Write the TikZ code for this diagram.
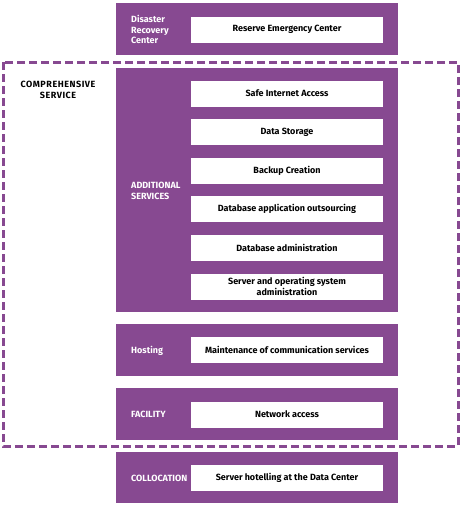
\documentclass[tikz,border=0pt]{standalone}
\usepackage{fontspec}
\setmainfont{Fira Sans}
\usetikzlibrary{positioning}
\definecolor{dcpurple}{RGB}{135,73,145}
\tikzset{
  layer/.style={fill=dcpurple, minimum width=282pt, inner sep=0pt},
  svc/.style={fill=white, minimum width=192pt, minimum height=26pt, inner sep=1pt, align=center, font=\fontsize{9}{10.5}\selectfont\bfseries},
  tag/.style={text=white, anchor=west, inner sep=0pt, align=left, font=\fontsize{9}{10.5}\selectfont\bfseries},
}

\begin{document}
\begin{tikzpicture}[x=1pt,y=-1pt]
  \useasboundingbox (0,0) rectangle (460,506);
  \def\Lx{256.5} % centre of the purple layers
  \def\Sx{287}   % centre of the white service boxes
  \def\Tx{131}   % left edge of the layer names
  % disaster recovery
  \node[layer, minimum height=52pt] (drc) at (\Lx,29) {};
  \node[svc] (reserve) at (\Sx,29.5) {Reserve Emergency Center};
  \node[tag] (drcname) at (\Tx,29.5) {Disaster\\Recovery\\Center};
  % comprehensive service frame
  \draw[dcpurple, line width=3pt, dash pattern=on 8pt off 4pt] (3,62) rectangle (458,446);
  \node[align=center, inner sep=0pt, font=\fontsize{9}{11}\selectfont\bfseries\addfontfeatures{LetterSpace=6}] (compname) at (58,90) {COMPREHENSIVE\\SERVICE};
  % additional services
  \node[layer, minimum height=244pt] (addl) at (\Lx,190) {};
  \node[tag] (addlname) at (\Tx,191) {ADDITIONAL\\SERVICES};
  \foreach \name/\txt [count=\i from 0] in {internet/Safe Internet Access, storage/Data Storage, backup/Backup Creation, dbout/Database application outsourcing, dbadmin/Database administration, srvadmin/{Server and operating system\\administration}}
    \node[svc] (\name) at (\Sx,{93.5+38.6*\i}) {\txt};
  % hosting
  \node[layer, minimum height=52pt] (host) at (\Lx,350) {};
  \node[svc] (maint) at (\Sx,350) {Maintenance of communication services};
  \node[tag] (hostname) at (\Tx,350.5) {Hosting};
  % facility
  \node[layer, minimum height=52pt] (fac) at (\Lx,414) {};
  \node[svc] (netacc) at (\Sx,414.5) {Network access};
  \node[tag] (facname) at (\Tx,414.5) {FACILITY};
  % collocation
  \node[layer, minimum height=51pt] (coll) at (\Lx,477.5) {};
  \node[svc] (hotel) at (\Sx,477.5) {Server hotelling at the Data Center};
  \node[tag] (collname) at (\Tx,478) {COLLOCATION};
\end{tikzpicture}
\end{document}
